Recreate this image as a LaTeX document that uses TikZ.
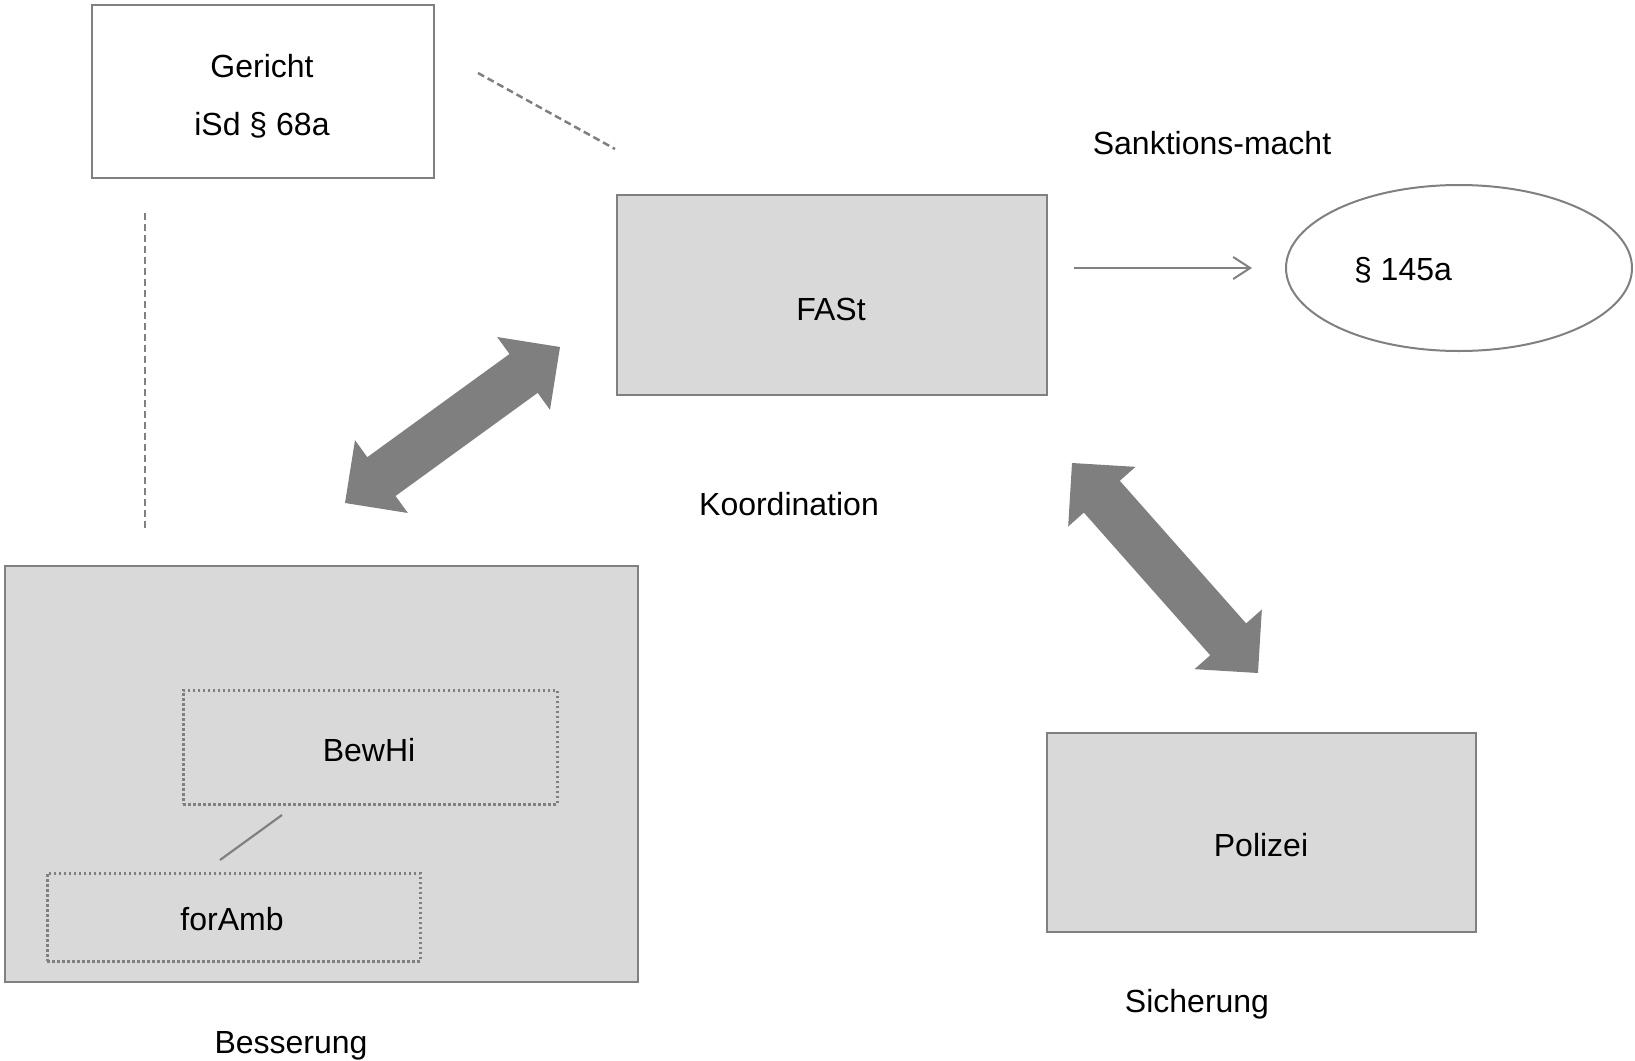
\documentclass[tikz,border=0pt]{standalone}
\usepackage{fontspec}
\setmainfont{Liberation Sans}
\usetikzlibrary{calc,arrows.meta,shapes.geometric}
\definecolor{boxfill}{HTML}{D9D9D9}
\definecolor{edge}{HTML}{808080}
\definecolor{fat}{HTML}{7F7F7F}
\tikzset{
  box/.style={draw=edge, line width=2pt, inner sep=0pt, anchor=north west},
  greybox/.style={box, fill=boxfill},
  dotbox/.style={box, line width=2.5pt, dash pattern=on 2.5pt off 2.5pt},
  lbl/.style={font=\fontsize{32}{38}\selectfont, anchor=base, inner sep=0pt},
  dashline/.style={draw=edge, line width=2.5pt, dash pattern=on 7pt off 4pt},
  thinline/.style={draw=edge, line width=2.2pt},
}
% broad double-headed arrow between two points
\newcommand\fatarrow[2]{%
  \fill[fat] (#1)
    -- ($(#1)!45pt!(#2)!45pt!90:(#2)$)
    -- ($(#1)!45pt!(#2)!24pt!90:(#2)$)
    -- ($(#2)!45pt!(#1)!24pt!-90:(#1)$)
    -- ($(#2)!45pt!(#1)!45pt!-90:(#1)$)
    -- (#2)
    -- ($(#2)!45pt!(#1)!45pt!90:(#1)$)
    -- ($(#2)!45pt!(#1)!24pt!90:(#1)$)
    -- ($(#1)!45pt!(#2)!24pt!-90:(#2)$)
    -- ($(#1)!45pt!(#2)!45pt!-90:(#2)$)
    -- cycle;}
\begin{document}
\begin{tikzpicture}[x=1pt,y=-1pt]
\useasboundingbox (0,0) rectangle (1635,1060);

% boxes
\node[box, minimum width=342pt, minimum height=173pt] (gericht) at (91,4) {};
\node[greybox, minimum width=430pt, minimum height=200pt] (fast) at (616,194) {};
\node[greybox, minimum width=633pt, minimum height=416pt] (besserung) at (4,565) {};
\node[dotbox, minimum width=374pt, minimum height=114pt] (bewhi) at (182,689) {};
\node[dotbox, minimum width=373pt, minimum height=88pt] (foramb) at (46,872) {};
\node[greybox, minimum width=429pt, minimum height=199pt] (polizei) at (1046,732) {};
\node[draw=edge, line width=2pt, fill=white, ellipse, minimum width=346pt, minimum height=166pt] (para) at (1459,268) {};

% texts
\node[lbl] (tGericht) at (262,77) {Gericht};
\node[lbl] (tIsd) at (262,135) {iSd § 68a};
\node[lbl] (tSank) at (1212,154) {Sanktions-macht};
\node[lbl] (tFast) at (831,320) {FASt};
\node[lbl] (tPara) at (1403,280) {§ 145a};
\node[lbl] (tKoord) at (789,515) {Koordination};
\node[lbl] (tBewhi) at (369,761) {BewHi};
\node[lbl] (tForamb) at (232,930) {forAmb};
\node[lbl] (tPolizei) at (1261,856) {Polizei};
\node[lbl] (tSich) at (1197,1012) {Sicherung};
\node[lbl] (tBess) at (291,1053) {Besserung};

% connector end points
\coordinate (gA) at (478,73);
\coordinate (gB) at (615,149);
\coordinate (vA) at (145,213);
\coordinate (vB) at (145,529);
\coordinate (bA) at (282,815);
\coordinate (bB) at (220,860);
\coordinate (sA) at (1074,268);
\coordinate (sB) at (1252,268);
\coordinate (k1) at (345,503);
\coordinate (k2) at (560,347);
\coordinate (p1) at (1072,463);
\coordinate (p2) at (1258,673);

% connectors
\draw[dashline] (gA) -- (gB);
\draw[dashline] (vA) -- (vB);
\draw[thinline] (bA) -- (bB);
\draw[thinline, -{Straight Barb[length=17pt,width=22pt,line width=2pt]}] (sA) -- (sB);
\fatarrow{k1}{k2}
\fatarrow{p1}{p2}
\end{tikzpicture}
\end{document}
